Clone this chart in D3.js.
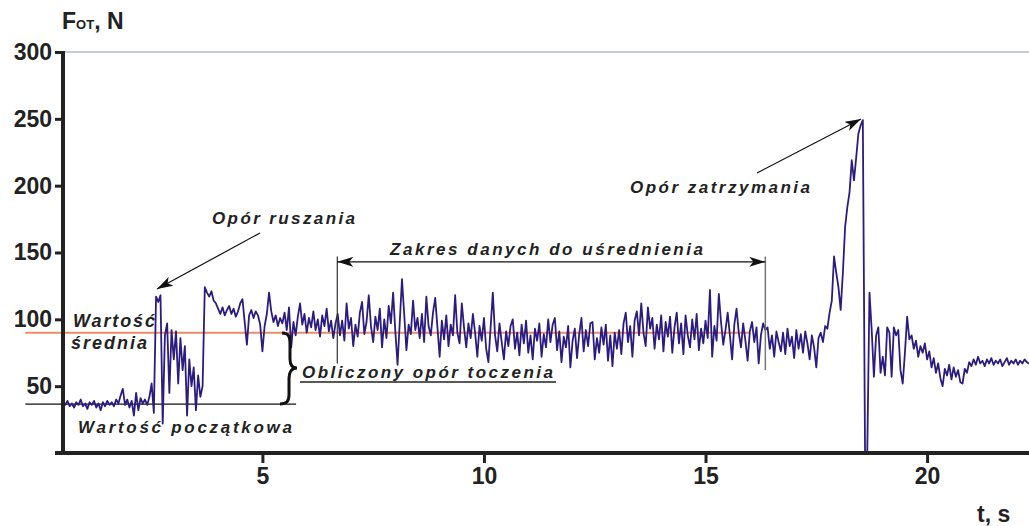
<!DOCTYPE html>
<html><head><meta charset="utf-8">
<script src="https://cdn.jsdelivr.net/npm/d3@7"></script>
<style>body{margin:0;background:#fff}svg{display:block}</style>
</head><body>
<svg id="c" width="1029" height="526"></svg>
<script>
// ---- data ----
const xTicks = [5, 10, 15, 20];
const yTicks = [50, 100, 150, 200, 250, 300];
const yTickLabels = ["50", "100", "150", "200", "250", "300"];
const sampleStep = 0.05; // s
const seg1Start = 0.5;
const seg1 = [38,36,39,35,37,34,38,36,40,35,37,33,38,36,39,34,37,32,38,35,39,36,38,35,40,37,43,48,36,40,34,39,28,45,32,41,37,40,36,42];
const seg2Start = 2.5;
const seg2 = [52,30,117,113,118,22,88,97,45,92,70,91,52,86,62,80,28,70,50,64,32,58,42,50,124];
const seg3Start = 3.75;
const seg3 = [120,117,121,114,112,108,104,109,103,107,110,104,108,102,106,112,115,98,81,103,107,101,106,103,96,76,95,104,120,106,98,103,95,101,97,105,92,109,79,98,88,102,112,96,104,90,101,94,106,92,100,87,103,95,108,91,99,86,97];
const seg4Start = 6.7;
const seg4 = [104,88,99,84,112,93,101,80,96,87,105,113,89,98,118,95,83,102,92,108,79,100,86,110,97,120,91,66,98,130,104,77,96,89,114,92,101,86,104,83,117,95,88,105,116,94,72,99,85,103,80,96,88,118,90,82,112,94,79,97,86,104,90,72,95,84,101,78,68,94,120,88,76,97,83,70,91,80,95,100,78,90,73,96,82,99,75,88,70,93,84,97,72,89,79,100];
const seg5Start = 11.5;
const seg5 = [83,96,101,77,91,68,87,79,95,64,84,93,71,89,101,76,92,80,97,98,70,86,75,94,81,96,69,88,65,90,78];
const seg6Start = 13.05;
const seg6 = [92,74,97,105,83,95,72,99,106,88,112,90,80,109,93,101,78,96,85,103,76,98,87,102,75,94,105,82,97,74,103,88,79,100,85,104,77,93,82,99,86,122,72,95,84,119,98,81,92,105,88,70,96,108,90,79,97,84,69,91,98,83,94,67,88,97];
const seg7Start = 16.35;
const seg7 = [92,94,78,88,72,91,83,76,90,74,93,80,87,71,92,78,89,75,91,82,70,88,79,64,86,90,83,95,93,105,114,147,135,124,107,135,169,184,195,219,204,221,239,245,249,0,0,120,92,57,88,94,60,72,58,94,90,57,94,88,92,62,52,75,102,85,88,78,84,72,80,75,82,70,76,64,71,60,67,56,50,63,58,66,55,64,57,62,53,52,63,60,68,65,70,66,72,67,69,65,70,67,71,66,69,67,70,65,68,71,66,69,67,70,66,69,67,70,68,67];
const meanValue = 90;      // Wartość średnia
const initialValue = 36.6; // Wartość początkowa
const meanLineT = [-0.35, 16.0];
const initLineT = [-0.35, 5.76];
const rangeT = [6.69, 16.35];
const rangeArrowV = 143, rangeTopV = 147, rangeBottomV = [67, 62];

// ---- build ----
const segments = [
  {start: seg1Start, values: seg1}, {start: seg2Start, values: seg2},
  {start: seg3Start, values: seg3}, {start: seg4Start, values: seg4},
  {start: seg5Start, values: seg5}, {start: seg6Start, values: seg6},
  {start: seg7Start, values: seg7}
];
const series = segments.flatMap(s => s.values.map((v, i) => ({t: s.start + i * sampleStep, v})));

const svg = d3.select("#c");
const x = d3.scaleLinear().domain([0.5, 22.3]).range([63, 1029]);
const y = d3.scaleLinear().domain([0, 300]).range([453, 52]);
const FONT = "'Liberation Sans', Arial, sans-serif";
const INK = "#222";

const defs = svg.append("defs");
defs.append("marker").attr("id", "ah").attr("markerUnits", "userSpaceOnUse")
  .attr("viewBox", "0 0 16 10").attr("markerWidth", 16).attr("markerHeight", 10)
  .attr("refX", 16).attr("refY", 5).attr("orient", "auto-start-reverse")
  .append("path").attr("d", "M0,0 L16,5 L0,10 L4,5 Z").attr("fill", "#111");

// top grid line at 300
svg.append("line").attr("x1", x(0.5)).attr("x2", x(22.3)).attr("y1", y(300)).attr("y2", y(300))
  .attr("stroke", "#8a97a5").attr("stroke-width", 1.2);

// reference lines
svg.append("line").attr("x1", x(meanLineT[0])).attr("x2", x(meanLineT[1]))
  .attr("y1", y(meanValue)).attr("y2", y(meanValue)).attr("stroke", "#ef8a66").attr("stroke-width", 2);
svg.append("line").attr("x1", x(initLineT[0])).attr("x2", x(initLineT[1]))
  .attr("y1", y(initialValue)).attr("y2", y(initialValue)).attr("stroke", "#111").attr("stroke-width", 1.2);

// signal
svg.append("path").datum(series)
  .attr("d", d3.line().x(d => x(d.t)).y(d => y(d.v)))
  .attr("fill", "none").attr("stroke", "#2c1c80").attr("stroke-width", 1.8).attr("stroke-linejoin", "round");

// range markers
svg.append("line").attr("x1", x(rangeT[0])).attr("x2", x(rangeT[0]))
  .attr("y1", y(rangeTopV)).attr("y2", y(rangeBottomV[0])).attr("stroke", "#333").attr("stroke-width", 1.2);
svg.append("line").attr("x1", x(rangeT[1])).attr("x2", x(rangeT[1]))
  .attr("y1", y(rangeTopV)).attr("y2", y(rangeBottomV[1])).attr("stroke", "#777").attr("stroke-width", 1.5);
svg.append("line").attr("x1", x(rangeT[0])).attr("x2", x(rangeT[1]))
  .attr("y1", y(rangeArrowV)).attr("y2", y(rangeArrowV)).attr("stroke", "#111").attr("stroke-width", 1.2)
  .attr("marker-start", "url(#ah)").attr("marker-end", "url(#ah)");

// annotation arrows
svg.append("line").attr("x1", 260).attr("y1", 233).attr("x2", 157).attr("y2", 289)
  .attr("stroke", "#111").attr("stroke-width", 1.2).attr("marker-end", "url(#ah)");
svg.append("line").attr("x1", 757).attr("y1", 173).attr("x2", 861).attr("y2", 119)
  .attr("stroke", "#111").attr("stroke-width", 1.2).attr("marker-end", "url(#ah)");

// brace
svg.append("path")
  .attr("d", "M282,333 C289,333 290,337 290,344 L290,359 C290,365 292,368 297,368 C292,368 289,372 289,378 L289,395 C289,401 287,404 280,404")
  .attr("fill", "none").attr("stroke", "#111").attr("stroke-width", 3);

// axes
const yAxis = svg.append("g").attr("transform", `translate(${x(0.5)},0)`)
  .call(d3.axisLeft(y).tickValues(yTicks).tickFormat((d, i) => yTickLabels[i]).tickSize(8).tickPadding(3).tickSizeOuter(0));
yAxis.select(".domain").remove();
yAxis.selectAll(".tick line").attr("stroke", INK).attr("stroke-width", 3);
yAxis.selectAll(".tick text").attr("font-family", FONT).attr("font-weight", "bold").attr("font-size", 23).attr("fill", INK);

const xAxis = svg.append("g").attr("transform", `translate(0,${y(0)})`)
  .call(d3.axisBottom(x).tickValues(xTicks).tickSize(10).tickPadding(5).tickSizeOuter(0));
xAxis.select(".domain").remove();
xAxis.selectAll(".tick line").attr("stroke", INK).attr("stroke-width", 3);
xAxis.selectAll(".tick text").attr("font-family", FONT).attr("font-weight", "bold").attr("font-size", 23).attr("fill", INK);

svg.append("line").attr("x1", x(0.5)).attr("x2", x(0.5)).attr("y1", y(300) - 1).attr("y2", y(0) + 2)
  .attr("stroke", INK).attr("stroke-width", 4);
svg.append("line").attr("x1", x(0.5) - 8).attr("x2", x(22.3)).attr("y1", y(0)).attr("y2", y(0))
  .attr("stroke", INK).attr("stroke-width", 4);

// axis titles
const ty = svg.append("text").attr("x", 62).attr("y", 29).attr("font-family", FONT)
  .attr("font-weight", "bold").attr("fill", INK).attr("font-size", 23);
ty.append("tspan").text("F");
ty.append("tspan").attr("font-size", 13).text("OT");
ty.append("tspan").text(", N");
svg.append("text").attr("x", 977).attr("y", 522).attr("font-family", FONT)
  .attr("font-weight", "bold").attr("font-size", 23).attr("fill", INK).text("t, s");

// annotation texts
function ann(txt, x0, x1, base, size) {
  return svg.append("text").attr("x", x0).attr("y", base).attr("font-family", FONT)
    .attr("font-weight", "bold").attr("font-style", "italic").attr("font-size", size || 17)
    .attr("fill", INK).attr("textLength", x1 - x0).attr("lengthAdjust", "spacing").text(txt);
}
ann("Opór ruszania", 212, 355, 224);
ann("Zakres danych do uśrednienia", 390, 703, 255);
ann("Opór zatrzymania", 630, 810, 193);
ann("Obliczony opór toczenia", 302, 553, 378);
svg.append("line").attr("x1", 300).attr("x2", 556).attr("y1", 382).attr("y2", 382).attr("stroke", INK).attr("stroke-width", 1.5);
ann("Wartość", 73, 155, 327, 18);
ann("średnia", 71, 147, 349, 18);
ann("Wartość początkowa", 78, 292, 433, 17);
</script>
</body></html>
